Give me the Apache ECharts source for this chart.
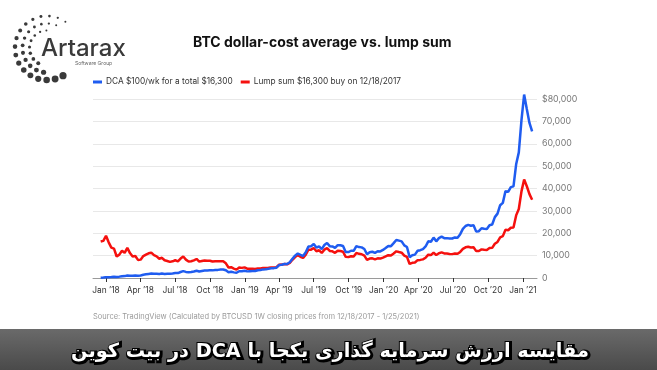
<!DOCTYPE html>
<html><head><meta charset="utf-8">
<script src="https://cdn.jsdelivr.net/npm/echarts@6/dist/echarts.min.js"></script>
<style>html,body{margin:0;padding:0;background:#fff}#c{width:657px;height:370px}</style>
</head><body><div id="c"></div><script>
// Weekly closes, first week 12/18/2017, last week 1/25/2021
const startYear = 2017, startMonth = 11, startDay = 18, weekDays = 7;
const seriesNames = ['DCA $100/wk for a total $16,300', 'Lump sum $16,300 buy on 12/18/2017'];
const dcaValues = [
  100, 200, 340, 380, 420, 510, 470, 610, 810, 850,
  1120, 1030, 990, 1110, 1010, 1130, 1440, 1640, 1830, 1980,
  1880, 1890, 1780, 1970, 1820, 1860, 1860, 2020, 2240, 2210,
  2680, 3060, 2720, 2540, 2690, 2910, 3250, 2900, 3120, 3310,
  3360, 3460, 3410, 3560, 3630, 3760, 3830, 3480, 2590, 2750,
  2520, 2340, 3020, 3010, 3260, 2960, 3060, 3160, 3130, 3460,
  3560, 3850, 3900, 4100, 4310, 4410, 4620, 5790, 5950, 6280,
  6260, 7020, 8590, 9990, 10960, 10310, 9830, 11540, 14100, 14200,
  15160, 13600, 14170, 12930, 14720, 15640, 14230, 14120, 13460, 14680,
  14640, 14310, 11620, 11580, 12180, 12140, 14240, 13820, 13690, 12960,
  10620, 11490, 11740, 11220, 11950, 11890, 12550, 13380, 14300, 14230,
  15570, 17010, 16690, 16370, 14600, 13850, 9300, 10190, 10460, 12160,
  12440, 12900, 14090, 16380, 16200, 18060, 16390, 17810, 18470, 17810,
  17820, 17630, 17640, 18120, 18030, 19600, 21960, 23250, 23750, 23350,
  23550, 20730, 20930, 22250, 22040, 21940, 23580, 23890, 27210, 28770,
  32530, 33580, 38840, 38510, 40620, 40940, 50820, 56140, 70540, 82000,
  75500, 69300, 65500
];
const lumpValues = [
  16300, 16600, 18900, 15950, 13600, 13140, 9620, 10440, 12200, 11260,
  13490, 11140, 9620, 9850, 8090, 8210, 9790, 10440, 11030, 11320,
  10200, 9680, 8620, 9030, 7920, 7620, 7210, 7450, 7920, 7450,
  8680, 9620, 8210, 7390, 7510, 7860, 8500, 7330, 7620, 7860,
  7740, 7740, 7390, 7510, 7450, 7510, 7450, 6570, 4690, 4810,
  4220, 3750, 4690, 4520, 4750, 4160, 4160, 4160, 3990, 4280,
  4280, 4520, 4460, 4570, 4690, 4690, 4810, 5920, 5980, 6220,
  6100, 6740, 8150, 9380, 10210, 9500, 8970, 10440, 12670, 12670,
  13430, 11960, 12380, 11200, 12670, 13370, 12080, 11910, 11260, 12200,
  12080, 11730, 9440, 9330, 9740, 9620, 11200, 10790, 10620, 9970,
  8090, 8680, 8800, 8330, 8800, 8680, 9090, 9620, 10210, 10090,
  10970, 11910, 11610, 11320, 10030, 9440, 6280, 6800, 6920, 7980,
  8090, 8330, 9030, 10440, 10260, 11380, 10260, 11080, 11440, 10970,
  10910, 10730, 10670, 10910, 10790, 11670, 13020, 13720, 13960, 13670,
  13720, 12020, 12080, 12790, 12610, 12490, 13370, 13490, 15310, 16130,
  18180, 18710, 21580, 21350, 22460, 22580, 27980, 30850, 38710, 44000,
  41000, 37500, 35000
];
const tickDates = [[2018,0],[2018,3],[2018,6],[2018,9],[2019,0],[2019,3],[2019,6],[2019,9],[2020,0],[2020,3],[2020,6],[2020,9],[2021,0]];
const tickLabels = ['Jan \u201918','Apr \u201918','Jul \u201918','Oct \u201918','Jan \u201919','Apr \u201919','Jul \u201919','Oct \u201919','Jan \u201920','Apr \u201920','Jul \u201920','Oct \u201920','Jan \u201921'];
const yMax = 80000, yStep = 10000;
const titleText = 'BTC dollar-cost average vs. lump sum';
const sourceText = 'Source: TradingView (Calculated by BTCUSD 1W closing prices from 12/18/2017 - 1/25/2021)';
const bannerText = 'مقایسه ارزش سرمایه گذاری یکجا با DCA در بیت کوین';
const bannerRtl = '\u202B' + bannerText + '\u202C';

const DAY = 864e5;
const toDay = (y, m, d) => Math.round(Date.UTC(y, m, d) / DAY);
const weekDay = dcaValues.map((_, i) => toDay(startYear, startMonth, startDay + i * weekDays));
const tickDay = tickDates.map(d => toDay(d[0], d[1], 1));
const xMin = tickDay[0] - 34.2;
const xMax = tickDay[tickDay.length - 1] + 36.8;

const FONT = 'Inter, "Noto Sans", sans-serif';

// logo dots (decoration)
const logo = [];
const cx = 47, cy = 48;
const rings = [
  {r: 32, a0: -55, a1: -300, n: 17, s0: 1.0, s1: 3.6},
  {r: 24.5, a0: -68, a1: -262, n: 12, s0: 1.0, s1: 2.6},
  {r: 17.5, a0: -92, a1: -240, n: 8, s0: 1.0, s1: 2.0}
];
rings.forEach(rg => {
  for (let k = 0; k < rg.n; k++) {
    const t = k / (rg.n - 1);
    const a = (rg.a0 + (rg.a1 - rg.a0) * t) * Math.PI / 180;
    logo.push({type: 'circle', shape: {cx: cx + rg.r * Math.cos(a), cy: cy + rg.r * Math.sin(a), r: rg.s0 + (rg.s1 - rg.s0) * t}, style: {fill: '#3a3a3a'}, silent: true});
  }
});

const chart = echarts.init(document.getElementById('c'), null, {renderer: 'canvas'});
chart.setOption({
  animation: false,
  backgroundColor: '#fff',
  title: {text: titleText, left: 193, top: 36, padding: 0,
    textStyle: {fontFamily: FONT, fontSize: 14, fontWeight: 'bold', color: '#111'}},
  legend: {left: 93, top: 78, padding: 0, icon: 'rect', itemWidth: 9, itemHeight: 3, itemGap: 8,
    data: seriesNames, textStyle: {fontFamily: FONT, fontSize: 8.3, color: '#333', padding: [0, 0, 0, -1]}},
  grid: {left: 93, right: 120, top: 99, bottom: 92},
  xAxis: {type: 'value', min: xMin, max: xMax,
    axisLine: {show: true, lineStyle: {color: '#9a9a9a', width: 1}},
    axisTick: {show: true, customValues: tickDay, length: 4, lineStyle: {color: '#333'}},
    axisLabel: {customValues: tickDay, margin: 8, fontFamily: FONT, fontSize: 8.4, color: '#333', hideOverlap: false,
      formatter: v => { const i = tickDay.indexOf(v); return i >= 0 ? tickLabels[i] : ''; }},
    splitLine: {show: false}},
  yAxis: {type: 'value', position: 'right', min: 0, max: yMax, interval: yStep,
    axisLine: {show: false}, axisTick: {show: false},
    splitLine: {show: true, lineStyle: {color: '#e8e8e8', width: 1}},
    axisLabel: {margin: 5, fontFamily: FONT, fontSize: 8.8, color: '#777',
      formatter: v => (v === yMax ? '$' : '') + v.toLocaleString('en-US')}},
  series: [
    {name: seriesNames[0], type: 'line', data: weekDay.map((t, i) => [t, dcaValues[i]]), showSymbol: false, clip: false,
      z: 3, color: '#1f5cf0', lineStyle: {width: 2.5, color: '#1f5cf0'}},
    {name: seriesNames[1], type: 'line', data: weekDay.map((t, i) => [t, lumpValues[i]]), showSymbol: false, clip: false,
      z: 2, color: '#f5100e', lineStyle: {width: 2.5, color: '#f5100e'}}
  ],
  graphic: [
    ...logo,
    {type: 'text', x: 41, y: 49, silent: true, style: {text: 'Artarax', font: '500 24px ' + FONT, fill: '#3a3a3a', verticalAlign: 'middle'}},
    {type: 'text', x: 75, y: 63, silent: true, style: {text: 'Software Group', font: '5px ' + FONT, fill: '#666', verticalAlign: 'middle'}},
    {type: 'text', x: 93, y: 317, silent: true, style: {text: sourceText, font: '7.5px ' + FONT, fill: '#9a9a9a', verticalAlign: 'middle'}},
    {type: 'rect', silent: true, shape: {x: 0, y: 329, width: 657, height: 41},
      style: {fill: new echarts.graphic.LinearGradient(0, 0, 0, 1, [{offset: 0, color: '#6a6a6a'}, {offset: 1, color: '#4a4a4a'}])}},
    {type: 'text', x: 331, y: 353, silent: true, z: 10, style: {text: bannerRtl, font: 'bold 19.3px "DejaVu Sans"', fill: '#000', stroke: '#000', lineWidth: 4, align: 'center', verticalAlign: 'middle'}},
    {type: 'text', x: 330, y: 352, silent: true, z: 11, style: {text: bannerRtl, font: 'bold 19.3px "DejaVu Sans"', fill: '#fff', align: 'center', verticalAlign: 'middle'}}
  ]
});
</script></body></html>
